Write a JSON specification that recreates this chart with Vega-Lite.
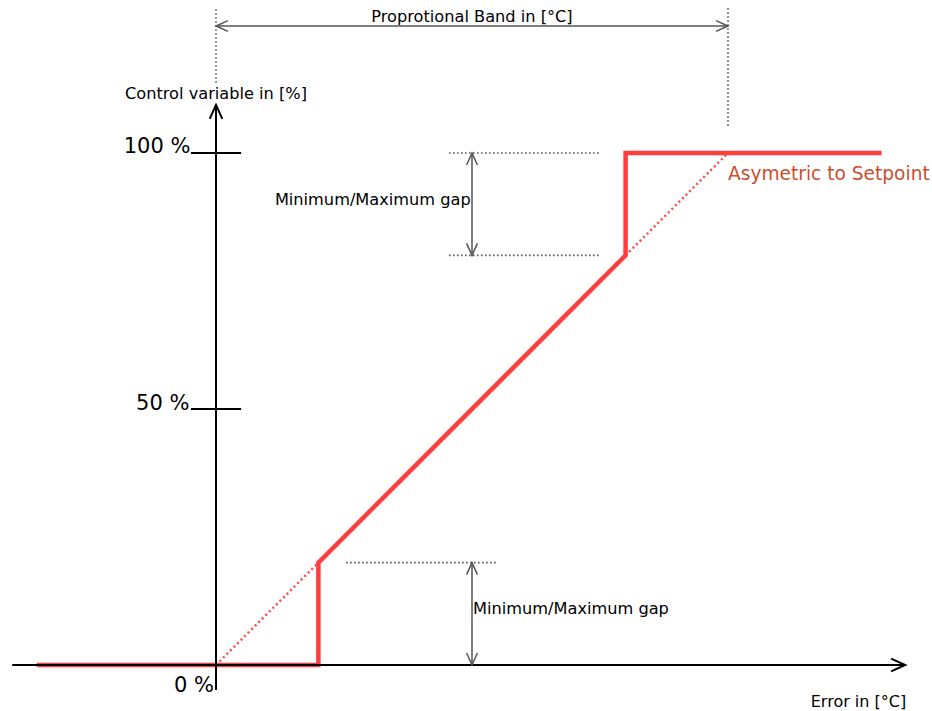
{
  "$schema": "https://vega.github.io/schema/vega-lite/v6.json",
  "width": 932,
  "height": 711,
  "padding": 0,
  "autosize": {"type": "fit", "contains": "padding"},
  "background": "white",
  "config": {"view": {"stroke": null}, "font": "DejaVu Sans"},
  "encoding": {
    "x": {"field": "x", "type": "quantitative", "axis": null, "scale": {"domain": [-42.1875, 139.84375], "nice": false, "zero": false}},
    "y": {"field": "y", "type": "quantitative", "axis": null, "scale": {"domain": [-8.984375, 129.8828125], "nice": false, "zero": false}}
  },
  "layer": [
    {
      "data": {"values": [
        {"x": 0, "y": 113.7, "x2": 0, "y2": 128.5},
        {"x": 100, "y": 105.3, "x2": 100, "y2": 128.5},
        {"x": 45.5, "y": 100, "x2": 75, "y2": 100},
        {"x": 45.5, "y": 80, "x2": 75, "y2": 80},
        {"x": 25.4, "y": 20, "x2": 55.1, "y2": 20}
      ]},
      "mark": {"type": "rule", "color": "#555555", "strokeWidth": 1.6, "strokeDash": [1.6, 2.4]},
      "encoding": {"x2": {"field": "x2"}, "y2": {"field": "y2"}}
    },
    {
      "data": {"values": [
        {"x": 0, "y": 0, "x2": 20, "y2": 20},
        {"x": 80, "y": 80, "x2": 100, "y2": 100}
      ]},
      "mark": {"type": "rule", "color": "#ff4a4a", "strokeWidth": 2.5, "strokeDash": [2, 3]},
      "encoding": {"x2": {"field": "x2"}, "y2": {"field": "y2"}}
    },
    {
      "data": {"values": [
        {"i": 1, "x": -35, "y": 0},
        {"i": 2, "x": 20, "y": 0},
        {"i": 3, "x": 20, "y": 20},
        {"i": 4, "x": 80, "y": 80},
        {"i": 5, "x": 80, "y": 100},
        {"i": 6, "x": 130, "y": 100}
      ]},
      "mark": {"type": "line", "color": "#ff3d3d", "strokeWidth": 4.5, "strokeJoin": "miter"},
      "encoding": {"order": {"field": "i"}}
    },
    {
      "data": {"values": [
        {"x": 0, "y": 124.8, "x2": 100, "y2": 124.8},
        {"x": 50, "y": 80, "x2": 50, "y2": 100},
        {"x": 50, "y": 0, "x2": 50, "y2": 20}
      ]},
      "mark": {"type": "rule", "color": "#555555", "strokeWidth": 1.5},
      "encoding": {"x2": {"field": "x2"}, "y2": {"field": "y2"}}
    },
    {
      "data": {"values": [
        {"x": -39.8, "y": 0, "x2": 134.6, "y2": 0},
        {"x": 0, "y": -4.9, "x2": 0, "y2": 109.4},
        {"x": -4.9, "y": 100, "x2": 4.9, "y2": 100},
        {"x": -4.9, "y": 50, "x2": 4.9, "y2": 50}
      ]},
      "mark": {"type": "rule", "color": "#000000", "strokeWidth": 2},
      "encoding": {"x2": {"field": "x2"}, "y2": {"field": "y2"}}
    },
    {
      "data": {"values": [
        {"x": 134.6, "y": 0, "dir": 0},
        {"x": 0, "y": 109.4, "dir": -90}
      ]},
      "mark": {"type": "point", "shape": "M-1,-0.45L0,0L-1,0.45", "filled": false, "stroke": "#000000", "strokeWidth": 2, "size": 784, "opacity": 1},
      "encoding": {"angle": {"field": "dir", "type": "quantitative", "scale": null}}
    },
    {
      "data": {"values": [
        {"x": 0, "y": 124.8, "dir": 180},
        {"x": 100, "y": 124.8, "dir": 0},
        {"x": 50, "y": 100, "dir": -90},
        {"x": 50, "y": 80, "dir": 90},
        {"x": 50, "y": 20, "dir": -90},
        {"x": 50, "y": 0, "dir": 90}
      ]},
      "mark": {"type": "point", "shape": "M-1,-0.45L0,0L-1,0.45", "filled": false, "stroke": "#555555", "strokeWidth": 1.5, "size": 576, "opacity": 1},
      "encoding": {"angle": {"field": "dir", "type": "quantitative", "scale": null}}
    },
    {
      "data": {"values": [
        {"x": -5, "y": 100, "label": "100 %"},
        {"x": -5.2, "y": 49.8, "label": "50 %"},
        {"x": -0.4, "y": -5.27, "label": "0 %"}
      ]},
      "mark": {"type": "text", "align": "right", "baseline": "alphabetic", "fontSize": 21, "color": "#000000"},
      "encoding": {"text": {"field": "label"}}
    },
    {
      "data": {"values": [
        {"x": 0, "y": 110.5, "label": "Control variable in [%]"},
        {"x": 50, "y": 125.6, "label": "Proprotional Band in [°C]"}
      ]},
      "mark": {"type": "text", "align": "center", "baseline": "alphabetic", "fontSize": 16.2, "color": "#000000"},
      "encoding": {"text": {"field": "label"}}
    },
    {
      "data": {"values": [
        {"x": 11.5, "y": 89.8, "label": "Minimum/Maximum gap"},
        {"x": 50.2, "y": 10, "label": "Minimum/Maximum gap"}
      ]},
      "mark": {"type": "text", "align": "left", "baseline": "alphabetic", "fontSize": 16.2, "color": "#000000"},
      "encoding": {"text": {"field": "label"}}
    },
    {
      "data": {"values": [
        {"x": 134.8, "y": -8.2, "label": "Error in [°C]"}
      ]},
      "mark": {"type": "text", "align": "right", "baseline": "alphabetic", "fontSize": 16, "color": "#000000"},
      "encoding": {"text": {"field": "label"}}
    },
    {
      "data": {"values": [
        {"x": 100, "y": 94.8, "label": "Asymetric to Setpoint"}
      ]},
      "mark": {"type": "text", "align": "left", "baseline": "alphabetic", "fontSize": 18.6, "color": "#c8502e"},
      "encoding": {"text": {"field": "label"}}
    }
  ]
}
